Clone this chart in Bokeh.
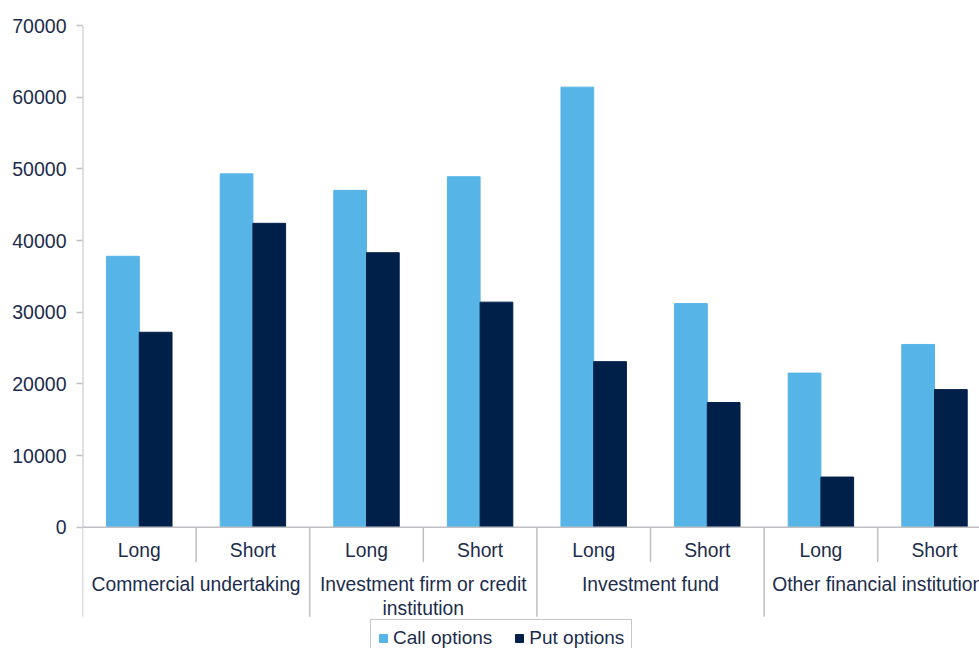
from bokeh.plotting import figure
from bokeh.models import Range1d, FixedTicker, Legend, LegendItem, ColumnDataSource
from bokeh.core.properties import value
from bokeh.embed import file_html
from bokeh.resources import INLINE

# ---- data ----
groups = ["Commercial undertaking", "Investment firm or credit\ninstitution",
          "Investment fund", "Other financial institution"]
positions = ["Long", "Short"]
call_options = [37800, 49300, 47000, 48900, 61400, 31200, 21500, 25500]
put_options = [27200, 42400, 38300, 31400, 23100, 17400, 7000, 19200]
y_ticks = [0, 10000, 20000, 30000, 40000, 50000, 60000, 70000]

CALL = "#56B4E6"
PUT = "#00204A"
TXT = "#1C2C4C"
GRID = "#BFBFC4"
FONT = "Liberation Sans"

n_sub = len(positions)
n = len(groups) * n_sub
centers = [i + 0.5 for i in range(n)]
bw = 0.288

src = ColumnDataSource(dict(
    xc=[c - bw / 2 for c in centers],
    xp=[c + bw / 2 for c in centers],
    call=call_options, put=put_options))

px_per_unit = 113.6
frame_w = 979 - 82
x_end = frame_w / px_per_unit

p = figure(width=979, height=648,
           x_range=Range1d(0, x_end), y_range=Range1d(-16921, 70000),
           output_backend="svg", toolbar_location=None,
           x_axis_location=None,
           min_border_left=82, min_border_right=0,
           min_border_top=25, min_border_bottom=0)
p.grid.visible = False
p.outline_line_color = None

ax = p.yaxis[0]
ax.ticker = FixedTicker(ticks=y_ticks)
ax.axis_line_color = None
ax.major_tick_line_color = GRID
ax.major_tick_line_width = 1.5
ax.major_tick_out = 6
ax.major_tick_in = 0
ax.minor_tick_line_color = None
ax.major_label_standoff = 10
ax.major_label_text_font = FONT
ax.major_label_text_font_size = "19.5px"
ax.major_label_text_color = TXT

r_call = p.vbar(x="xc", top="call", width=bw, source=src, fill_color=CALL, line_color=CALL)
r_put = p.vbar(x="xp", top="put", width=bw, source=src, fill_color=PUT, line_color=PUT)

# axis line at zero
p.segment(x0=[0], y0=[0], x1=[x_end], y1=[0], line_color=GRID, line_width=1.5)
# y axis line + group separators
gx = [g * n_sub for g in range(len(groups))]
p.segment(x0=[0], y0=[y_ticks[-1]], x1=[0], y1=[0], line_color=GRID, line_width=2)
p.segment(x0=gx, y0=[0] * len(gx), x1=gx, y1=[-12500] * len(gx), line_color=GRID, line_width=1.5)
sx = [g * n_sub + 1 for g in range(len(groups))]
p.segment(x0=sx, y0=[0] * len(sx), x1=sx, y1=[-4836] * len(sx), line_color=GRID, line_width=1.5)

# category labels
p.text(x=centers, y=[-3208] * n, text=positions * len(groups),
       text_align="center", text_baseline="middle",
       text_font=value(FONT), text_font_size="19.3px", text_color=TXT)
p.text(x=[g * n_sub + n_sub / 2 for g in range(len(groups))], y=[-6550] * len(groups),
       text=groups, text_align="center", text_baseline="top",
       text_font=value(FONT), text_font_size="19.3px", text_color=TXT,
       text_line_height=1.15)

legend = Legend(items=[LegendItem(label="Call options", renderers=[r_call]),
                       LegendItem(label="Put options", renderers=[r_put])],
                orientation="horizontal", location=(288, -9),
                border_line_color="#8C8C8C", border_line_width=1,
                label_text_font=FONT, label_text_font_size="19px", label_text_color=TXT,
                glyph_width=10, glyph_height=10, label_standoff=5, spacing=22,
                padding=7, margin=0, background_fill_alpha=1)
p.add_layout(legend)

open("out.html", "w").write(file_html(p, INLINE))
